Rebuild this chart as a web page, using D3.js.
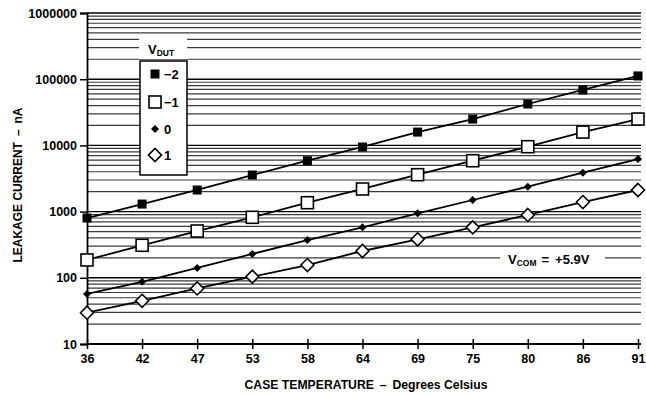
<!DOCTYPE html>
<html><head><meta charset="utf-8">
<script src="https://cdn.jsdelivr.net/npm/d3@7"></script>
<style>body{margin:0;background:#fff}text{font-family:"Liberation Sans",Arial,sans-serif;font-weight:bold;fill:#000}</style>
</head><body><svg id="c" width="646" height="396"></svg>
<script>
const categories = ["36","42","47","53","58","64","69","75","80","86","91"];
const yTicks = [10,100,1000,10000,100000,1000000];
const seriesNames = ["\u22122","\u22121","0","1"];
const sM2 = [800,1300,2120,3570,5870,9460,15900,25000,42200,68700,112000];
const sM1 = [186,310,509,820,1362,2195,3610,5870,9560,15900,25000];
const s0  = [57,87,141,229,372,579,943,1497,2377,3870,6230];
const s1  = [29.7,45,69,104,156,254,382,579,889,1396,2120];
const series = [sM2,sM1,s0,s1];
const markers = ["fsq","osq","fdi","odi"];

const svg = d3.select("#c");
const x = d3.scalePoint().domain(categories).range([87,638]);
const y = d3.scaleLog().domain([10,1000000]).range([344,13]);

// horizontal grid
const grid=[];
for(let d=10; d<1000000; d*=10){ for(let k=1;k<10;k++) grid.push(d*k); }
grid.push(1000000);
svg.append("g").selectAll("line").data(grid).join("line")
  .attr("x1",87).attr("x2",641).attr("y1",d=>y(d)).attr("y2",d=>y(d))
  .attr("stroke",d=>Math.abs(Math.log10(d)%1)<1e-9?"#000":"#3a3a3a")
  .attr("stroke-width",d=>Math.abs(Math.log10(d)%1)<1e-9?1.4:1.2);

// axes
const yAxis = d3.axisLeft(y).tickValues(yTicks).tickFormat(d3.format("d")).tickSize(7).tickPadding(3);
const ga = svg.append("g").attr("transform","translate(87,0)").call(yAxis);
ga.select(".domain").attr("stroke","#000").attr("stroke-width",1.8);
ga.selectAll(".tick line").attr("stroke","#000").attr("stroke-width",1.5);
ga.selectAll("text").attr("font-size",12.5).attr("font-family","Liberation Sans, Arial").attr("font-weight","bold").attr("fill","#000");

const xAxis = d3.axisBottom(x).tickSize(0).tickPadding(10);
const gx = svg.append("g").attr("transform","translate(0,344)").call(xAxis);
gx.select(".domain").attr("stroke","#000").attr("stroke-width",1.8).attr("d","M87,0H641");
gx.selectAll(".tick").append("line").attr("y1",-5).attr("y2",5).attr("stroke","#000").attr("stroke-width",1.5);
gx.selectAll("text").attr("font-size",12.5).attr("font-family","Liberation Sans, Arial").attr("font-weight","bold").attr("fill","#000");

// axis titles
const xt = svg.append("text").attr("x",366).attr("y",389).attr("text-anchor","middle").attr("font-size",12.5)
  .attr("textLength",243).attr("lengthAdjust","spacingAndGlyphs");
xt.append("tspan").text("CASE TEMPERATURE");
xt.append("tspan").attr("dx",6).text("\u2013");
xt.append("tspan").attr("dx",6).text("Degrees Celsius");
const yt = svg.append("text").attr("transform","translate(22,185) rotate(-90)").attr("text-anchor","middle").attr("font-size",12)
  .attr("textLength",155).attr("lengthAdjust","spacingAndGlyphs");
yt.append("tspan").text("LEAKAGE CURRENT");
yt.append("tspan").attr("dx",6).text("\u2013");
yt.append("tspan").attr("dx",6).text("nA");

// lines
const line = d3.line().x((d,i)=>x(categories[i])).y(d=>y(d));
series.forEach(s=>{
  svg.append("path").attr("d",line(s)).attr("fill","none").attr("stroke","#000").attr("stroke-width",1.8);
});

function drawMarker(g,type,cx,cy){
  if(type==="fsq") g.append("rect").attr("x",cx-4.5).attr("y",cy-4.5).attr("width",9).attr("height",9).attr("fill","#000");
  if(type==="osq") g.append("rect").attr("x",cx-6).attr("y",cy-6).attr("width",12).attr("height",12).attr("fill","#fff").attr("stroke","#000").attr("stroke-width",1.6);
  if(type==="fdi") g.append("path").attr("d",`M${cx},${cy-4}L${cx+4},${cy}L${cx},${cy+4}L${cx-4},${cy}Z`).attr("fill","#000");
  if(type==="odi") g.append("path").attr("d",`M${cx},${cy-6.5}L${cx+6.5},${cy}L${cx},${cy+6.5}L${cx-6.5},${cy}Z`).attr("fill","#fff").attr("stroke","#000").attr("stroke-width",1.6);
}
const mg = svg.append("g");
series.forEach((s,si)=>{
  s.forEach((v,i)=>drawMarker(mg,markers[si],x(categories[i]),y(v)));
});

// legend
svg.append("rect").attr("x",139).attr("y",38).attr("width",48).attr("height",21).attr("fill","#fff");
const t1 = svg.append("text").attr("x",148).attr("y",54).attr("font-size",13);
t1.append("tspan").text("V");
t1.append("tspan").attr("font-size",8.5).attr("dy",2).text("DUT");
svg.append("rect").attr("x",140).attr("y",61).attr("width",47).attr("height",114).attr("fill","#fff").attr("stroke","#000").attr("stroke-width",1.5);
const ly=[74,102,129,155];
seriesNames.forEach((n,i)=>{
  drawMarker(svg,markers[i],155,ly[i]);
  svg.append("text").attr("x",164).attr("y",ly[i]+5).attr("font-size",13).text(n);
});

// Vcom label
svg.append("rect").attr("x",500).attr("y",250).attr("width",105).attr("height",16).attr("fill","#fff");
const t2 = svg.append("text").attr("x",508).attr("y",264).attr("font-size",13);
t2.append("tspan").text("V");
t2.append("tspan").attr("font-size",8.5).attr("dy",2).text("COM");
t2.append("tspan").attr("dy",-2).attr("dx",5).text("=");
t2.append("tspan").attr("dx",6).text("+5.9V");
</script></body></html>
